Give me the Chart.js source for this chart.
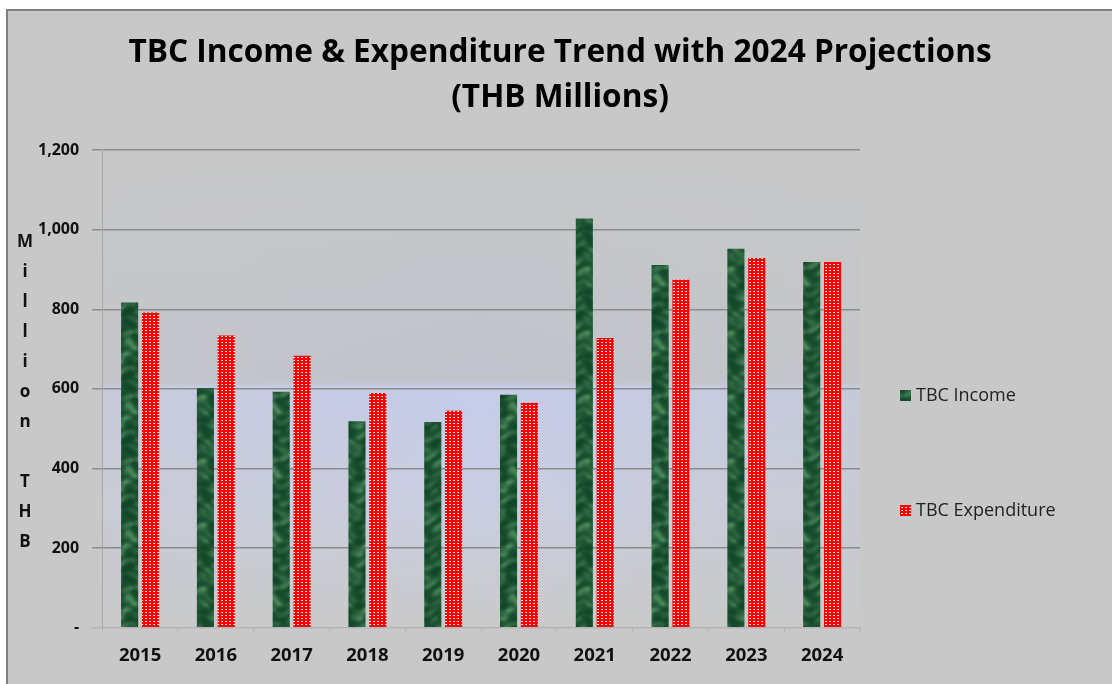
<!DOCTYPE html>
<html><head><meta charset="utf-8">
<script src="https://cdn.jsdelivr.net/npm/chart.js@4.4.0/dist/chart.umd.min.js"></script>
<style>
html,body{margin:0;padding:0;background:#fff;overflow:hidden;}
#box{position:absolute;left:6px;top:9px;width:1106px;height:675px;background:#c8c8c8;border-left:2px solid #808080;border-top:2px solid #808080;box-sizing:border-box;}
canvas{display:block;}
</style></head><body>
<div id="box"><canvas id="c" width="1104" height="673"></canvas></div>
<script>
const categories = ['2015','2016','2017','2018','2019','2020','2021','2022','2023','2024'];
const incomeValues = [817, 602, 593, 519, 517, 585, 1028, 911, 952, 919];
const expenditureValues = [792, 734, 683, 590, 545, 565, 728, 874, 929, 919];
const seriesNames = ['TBC Income', 'TBC Expenditure'];
const titleLines = ['TBC Income & Expenditure Trend with 2024 Projections', '(THB Millions)'];
const yTitleLetters = ['M','i','l','l','i','o','n','','T','H','B'];
const yTickValues = [0, 200, 400, 600, 800, 1000, 1200];
const FONT = '"Open Sans", "Noto Sans", sans-serif';

function greenPattern(){
  const W=48,H=64;
  const c=document.createElement('canvas'); c.width=W; c.height=H;
  const g=c.getContext('2d'); const img=g.createImageData(W,H);
  const kx=2*Math.PI/W, ky=2*Math.PI/H;
  for(let y=0;y<H;y++)for(let x=0;x<W;x++){
    const v1=Math.sin(kx*x+1.8*Math.sin(2*ky*y+0.7*Math.cos(kx*x)));
    const v2=Math.sin(3*ky*y+1.4*Math.cos(2*kx*x));
    const v3=Math.sin(2*kx*x+ky*y+1.3*Math.sin(3*ky*y));
    let t=(v1*v2+0.7*v3+1.7)/3.4; t=Math.max(0,Math.min(1,t)); t=Math.pow(t,2);
    const i=(y*W+x)*4;
    img.data[i]=Math.round(18+t*58);
    img.data[i+1]=Math.round(70+t*68);
    img.data[i+2]=Math.round(40+t*52);
    img.data[i+3]=255;
  }
  g.putImageData(img,0,0);
  return g.createPattern(c,'repeat');
}
function redPattern(){
  const c=document.createElement('canvas'); c.width=4; c.height=3;
  const g=c.getContext('2d');
  g.fillStyle='#ff0000'; g.fillRect(0,0,4,3);
  g.fillStyle='#ffffff'; g.fillRect(2,1,1,1);
  g.fillStyle='#ffb4b4'; g.fillRect(1,1,1,1);
  return g.createPattern(c,'repeat');
}
const ctx=document.getElementById('c').getContext('2d');
const gFill=greenPattern(), rFill=redPattern();

const bgPlugin={id:'bg',beforeDraw(chart){
  const {ctx,chartArea:a}=chart; const h=a.bottom-a.top;
  const gr=ctx.createLinearGradient(0,a.top,0,a.bottom);
  gr.addColorStop(0,'#c8c8c8');
  gr.addColorStop(0.485,'#c0c3cc');
  gr.addColorStop(0.495,'#c5ccea');
  gr.addColorStop(0.75,'#c9cde0');
  gr.addColorStop(1,'#cacaca');
  ctx.save(); ctx.fillStyle=gr; ctx.fillRect(a.left,a.top,a.right-a.left,h);
  const hr=ctx.createLinearGradient(a.left,0,a.right,0);
  hr.addColorStop(0,'rgba(200,200,200,0.45)');
  hr.addColorStop(0.5,'rgba(200,200,200,0)');
  hr.addColorStop(1,'rgba(200,200,200,0.55)');
  ctx.fillStyle=hr; ctx.fillRect(a.left,a.top,a.right-a.left,h);
  ctx.restore();
}};
const textPlugin={id:'texts',afterDraw(chart){
  const {ctx,chartArea:a,width}=chart;
  ctx.save();
  // title
  ctx.fillStyle='#000'; ctx.textAlign='center'; ctx.textBaseline='alphabetic';
  ctx.font='bold 31.6px '+FONT;
  ctx.fillText(titleLines[0],width/2,51);
  ctx.fillText(titleLines[1],width/2,96);
  // y axis title (stacked letters)
  ctx.font='bold 17px '+FONT; ctx.fillStyle='#111'; ctx.textBaseline='middle';
  const step=30, cy=(a.top+a.bottom)/2+3, n=yTitleLetters.length;
  yTitleLetters.forEach((l,i)=>{ if(l) ctx.fillText(l,17,cy+(i-(n-1)/2)*step); });
  // legend
  const x=a.right+40, ys=[384.5,499.5];
  ctx.textAlign='left'; ctx.font='18px '+FONT;
  [gFill,rFill].forEach((f,i)=>{
    ctx.fillStyle=f; ctx.fillRect(x,ys[i]-5.5,11,11);
    ctx.fillStyle='#222'; ctx.fillText(seriesNames[i],x+16,ys[i]);
  });
  ctx.restore();
}};

new Chart(ctx,{
  type:'bar',
  data:{labels:categories,datasets:[
    {label:seriesNames[0],data:incomeValues,backgroundColor:gFill,borderWidth:0},
    {label:seriesNames[1],data:expenditureValues,backgroundColor:rFill,borderWidth:0}
  ]},
  plugins:[bgPlugin,textPlugin],
  options:{
    responsive:false,animation:false,
    datasets:{bar:{categoryPercentage:0.55,barPercentage:0.82}},
    layout:{padding:{left:17,right:252,top:139,bottom:4}},
    plugins:{legend:{display:false},tooltip:{enabled:false},title:{display:false}},
    scales:{
      x:{
        grid:{display:true,drawOnChartArea:false,drawTicks:true,tickLength:4,color:'#b5b5b5',offset:true},
        border:{color:'#b5b5b5'},
        ticks:{color:'#111',padding:13,font:{family:FONT,size:18.5,weight:'bold'}}
      },
      y:{
        min:0,max:1200,
        afterBuildTicks(s){s.ticks=yTickValues.map(v=>({value:v}));},
        grid:{color:(c)=>c.tick&&c.tick.value===0?'#b5b5b5':'#8c8c8c',lineWidth:1.5,tickLength:10},
        border:{color:'#a8a8a8',width:1},
        ticks:{color:'#111',padding:13,font:{family:FONT,size:16,weight:'bold'},
          callback:(v)=>v===0?'-':v.toLocaleString('en-US')}
      }
    }
  }
});
</script>
</body></html>
